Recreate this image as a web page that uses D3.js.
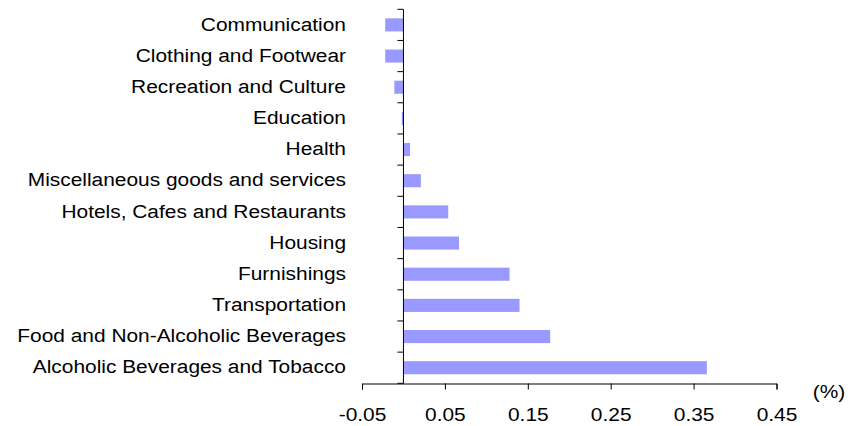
<!DOCTYPE html>
<html>
<head>
<meta charset="utf-8">
<script src="https://cdnjs.cloudflare.com/ajax/libs/d3/7.8.5/d3.min.js"></script>
<style>
  body { margin: 0; background: #fff; }
  svg text { font-family: "Liberation Sans", Arial, sans-serif; fill: #000; font-size: 19px; }
</style>
</head>
<body>
<div id="chart"></div>
<script>
// категории сверху вниз
const categories = [
    'Communication',
    'Clothing and Footwear',
    'Recreation and Culture',
    'Education',
    'Health',
    'Miscellaneous goods and services',
    'Hotels, Cafes and Restaurants',
    'Housing',
    'Furnishings',
    'Transportation',
    'Food and Non-Alcoholic Beverages',
    'Alcoholic Beverages and Tobacco'
];
const values = [-0.022, -0.022, -0.011, -0.002, 0.008, 0.021, 0.054, 0.067, 0.128, 0.140, 0.177, 0.366];
const xTicks = [-0.05, 0.05, 0.15, 0.25, 0.35, 0.45];

const width = 850;
const height = 426;
const stretch = 'scale(1.1,1)'; // шрифт в оригинале слегка растянут по горизонтали

const svg = d3.select('#chart')
    .append('svg')
    .attr('width', width)
    .attr('height', height);

const x = d3.scaleLinear()
    .domain([-0.05, 0.45])
    .range([362, 776.5]);

const y = d3.scaleBand()
    .domain(categories)
    .range([9.3, 383.3])
    .paddingInner(0.58)
    .paddingOuter(0.29);

// бары
svg.selectAll('.bar')
    .data(values)
    .enter().append('rect')
    .attr('class', 'bar')
    .attr('x', d => x(Math.min(0, d)))
    .attr('width', d => Math.abs(x(d) - x(0)))
    .attr('y', (d, i) => y(categories[i]))
    .attr('height', y.bandwidth())
    .attr('fill', '#9999ff');

// ось X
const xAxis = svg.append('g')
    .attr('transform', 'translate(0,383.5)')
    .call(d3.axisBottom(x).tickValues(xTicks).tickSize(6).tickPadding(18)
        .tickFormat(d => d3.format('.2f')(d).replace('−', '-')));
xAxis.select('.domain').attr('stroke', '#000');
xAxis.selectAll('.tick line').attr('stroke', '#000');
xAxis.selectAll('.tick text')
    .attr('font-size', null)
    .attr('font-family', null)
    .attr('transform', stretch);

// ось Y в нуле, засечки между категориями
const bounds = d3.range(categories.length + 1).map(i => 9.3 + i * (374 / categories.length));
const yAxis = svg.append('g');
yAxis.append('line')
    .attr('x1', x(0)).attr('x2', x(0))
    .attr('y1', bounds[0]).attr('y2', 383.5)
    .attr('stroke', '#000');
yAxis.selectAll('.ytick')
    .data(bounds)
    .enter().append('line')
    .attr('x1', x(0) - 6).attr('x2', x(0))
    .attr('y1', d => d).attr('y2', d => d)
    .attr('stroke', '#000');

// подписи категорий
svg.selectAll('.label')
    .data(categories)
    .enter().append('text')
    .attr('transform', d => `translate(346,${y(d) + y.bandwidth() / 2}) ${stretch}`)
    .attr('dy', '0.3em')
    .attr('text-anchor', 'end')
    .text(d => d);

svg.append('text')
    .attr('transform', `translate(829,391) ${stretch}`)
    .attr('dy', '0.35em')
    .attr('text-anchor', 'middle')
    .text('(%)');
</script>
</body>
</html>
